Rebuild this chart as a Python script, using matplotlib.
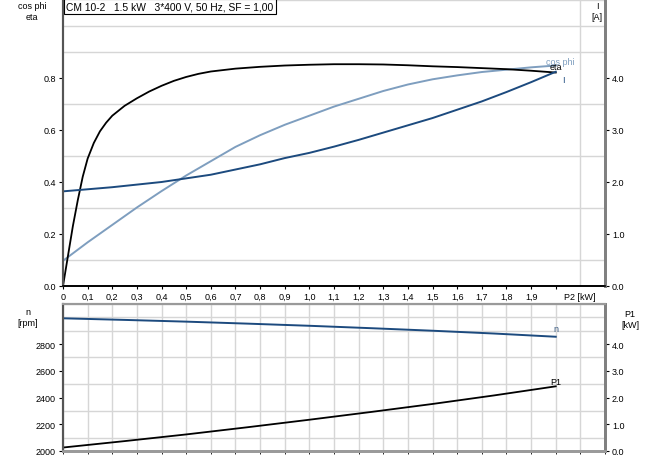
import matplotlib
matplotlib.use("Agg")
import matplotlib.pyplot as plt

plt.rcParams['font.family'] = ['Liberation Sans', 'DejaVu Sans']

# ---- data ----
p2_eta = [0, 0.02, 0.04, 0.06, 0.08, 0.1, 0.125, 0.15, 0.175, 0.2, 0.25, 0.3, 0.35, 0.4, 0.45,
          0.5, 0.55, 0.6, 0.7, 0.8, 0.9, 1.0, 1.1, 1.2, 1.3, 1.4, 1.5, 1.6, 1.7, 1.8, 1.9, 2.0]
eta = [0, 0.115, 0.23, 0.33, 0.42, 0.49, 0.55, 0.595, 0.628, 0.655, 0.693, 0.722, 0.748, 0.77, 0.789,
       0.804, 0.816, 0.825, 0.836, 0.843, 0.848, 0.851, 0.853, 0.853, 0.852, 0.849, 0.845, 0.842,
       0.838, 0.834, 0.828, 0.821]

p2 = [0, 0.1, 0.2, 0.3, 0.4, 0.5, 0.6, 0.7, 0.8, 0.9, 1.0, 1.1, 1.2, 1.3, 1.4, 1.5, 1.6, 1.7, 1.8, 1.9, 2.0]
cos_phi = [0.097, 0.168, 0.235, 0.302, 0.365, 0.425, 0.48, 0.535, 0.58, 0.62, 0.655, 0.69, 0.72,
           0.75, 0.775, 0.795, 0.81, 0.823, 0.832, 0.841, 0.848]
current = [1.82, 1.86, 1.90, 1.95, 2.00, 2.07, 2.14, 2.24, 2.34, 2.46, 2.56, 2.68, 2.81, 2.95,
           3.09, 3.23, 3.39, 3.55, 3.73, 3.92, 4.12]

p2_b = [0, 0.25, 0.5, 0.75, 1.0, 1.25, 1.5, 1.75, 2.0]
speed = [2993, 2981, 2968, 2953, 2937, 2919, 2900, 2879, 2855]
p1 = [0.13, 0.37, 0.62, 0.89, 1.17, 1.46, 1.76, 2.08, 2.42]

x_ticks = [round(0.1 * i, 1) for i in range(21)]
x_labels = ['0'] + [('%.1f' % v).replace('.', ',') for v in x_ticks[1:20]] + ['']
title_text = 'CM 10-2   1.5 kW   3*400 V, 50 Hz, SF = 1,00'

# ---- styles ----
C_ETA = 'black'
C_I = '#1c4a7e'
C_COS = '#7e9ebf'
GRID = '#d6d6d6'
FS = 6.5

fig = plt.figure(figsize=(6.56, 4.60), dpi=100)
W, H = 656, 460
def rect(l, t, r, b):
    return [l / W, 1 - b / H, (r - l) / W, (b - t) / H]

ax1 = fig.add_axes(rect(63, 1, 605, 287))
ax2 = fig.add_axes(rect(63, 305, 605, 452))

for ax in (ax1, ax2):
    ax.set_xlim(0, 2.2)
    ax.set_xticks([round(0.1 * i, 1) for i in range(23)], minor=True)
    ax.grid(True, which='minor', axis='x', color=GRID, lw=1.0)
    ax.set_axisbelow(True)

# top axes
ax1.set_ylim(0, 1.1)
ax1.set_yticks([0, 0.2, 0.4, 0.6, 0.8])
ax1.set_yticklabels(['0.0', '0.2', '0.4', '0.6', '0.8'])
ax1.set_yticks([round(0.1 * i, 1) for i in range(12)], minor=True)
ax1.grid(True, which='minor', axis='y', color=GRID, lw=1.0)
ax1.set_xticks(x_ticks)
ax1.set_xticklabels(x_labels)
ax1.tick_params(axis='x', which='major', length=2, labelsize=FS, pad=2)
ax1.tick_params(axis='x', which='minor', length=0)
ax1.tick_params(axis='y', which='major', length=3, labelsize=FS, pad=2)
ax1.tick_params(axis='y', which='minor', length=0)
ax1.plot(p2, cos_phi, color=C_COS, lw=1.4)
ax1.plot(p2_eta, eta, color=C_ETA, lw=1.3)

ax1r = ax1.twinx()
ax1r.set_ylim(0, 5.5)
ax1r.set_yticks([0, 1, 2, 3, 4])
ax1r.set_yticklabels(['0.0', '1.0', '2.0', '3.0', '4.0'])
ax1r.tick_params(axis='y', length=3, labelsize=FS, pad=2)
ax1r.plot(p2, current, color=C_I, lw=1.4)

for a in (ax1, ax1r):
    a.spines['top'].set_visible(False)
    a.spines['left'].set_color('#555555')
    a.spines['left'].set_linewidth(1.5)
    a.spines['right'].set_color('#808080')
    a.spines['right'].set_linewidth(2)
    a.spines['bottom'].set_color('black')
    a.spines['bottom'].set_linewidth(1.2)

ax1.text(0.006, 0.995, title_text, transform=ax1.transAxes, fontsize=7.4, va='top', ha='left',
         bbox=dict(boxstyle='square,pad=0.25', fc='white', ec='black', lw=0.8), zorder=10)

ax1.text(2.02, 0.847, 'cos phi', color=C_COS, fontsize=6.5, ha='center', va='bottom')
ax1.text(2.0, 0.826, 'eta', color=C_ETA, fontsize=6.5, ha='center', va='bottom')
ax1r.text(2.03, 3.97, 'I', color=C_I, fontsize=6.5, ha='center', va='center')

fig.text(32 / W, 1 - 12 / H, 'cos phi\neta', fontsize=FS, ha='center', va='center', linespacing=1.4)
fig.text(597 / W, 1 - 12 / H, 'I\n[A]', fontsize=FS, ha='center', va='center', linespacing=1.4)
fig.text(580 / W, 1 - 297 / H, 'P2 [kW]', fontsize=FS, ha='center', va='center')

# bottom axes
ax2.set_ylim(2000, 3100)
ax2.set_yticks([2000, 2200, 2400, 2600, 2800])
ax2.set_yticks(list(range(2000, 3101, 100)), minor=True)
ax2.grid(True, which='minor', axis='y', color=GRID, lw=1.0)
ax2.set_xticks([])
ax2.tick_params(axis='y', which='major', length=3, labelsize=FS, pad=2)
ax2.tick_params(axis='y', which='minor', length=0)
ax2.plot(p2_b, speed, color=C_I, lw=1.4)

ax2r = ax2.twinx()
ax2r.set_ylim(0, 5.5)
ax2r.set_yticks([0, 1, 2, 3, 4])
ax2r.set_yticklabels(['0.0', '1.0', '2.0', '3.0', '4.0'])
ax2r.tick_params(axis='y', length=3, labelsize=FS, pad=2)
ax2r.plot(p2_b, p1, color=C_ETA, lw=1.3)

for a in (ax2, ax2r):
    a.spines['top'].set_color('#9a9a9a')
    a.spines['top'].set_linewidth(1.5)
    a.spines['left'].set_color('#555555')
    a.spines['left'].set_linewidth(1.5)
    a.spines['right'].set_color('#808080')
    a.spines['right'].set_linewidth(2)
    a.spines['bottom'].set_color('#9a9a9a')
    a.spines['bottom'].set_linewidth(2)

ax2.text(2.0, 2880, 'n', color='#3a5a80', fontsize=6.5, ha='center', va='bottom')
ax2r.text(2.0, 2.45, 'P1', color='black', fontsize=6.5, ha='center', va='bottom')

fig.text(28 / W, 1 - 318 / H, 'n\n[rpm]', fontsize=FS, ha='center', va='center', linespacing=1.3)
fig.text(630 / W, 1 - 320 / H, 'P1\n[kW]', fontsize=FS, ha='center', va='center', linespacing=1.3)

fig.savefig('out.png', dpi=100)
